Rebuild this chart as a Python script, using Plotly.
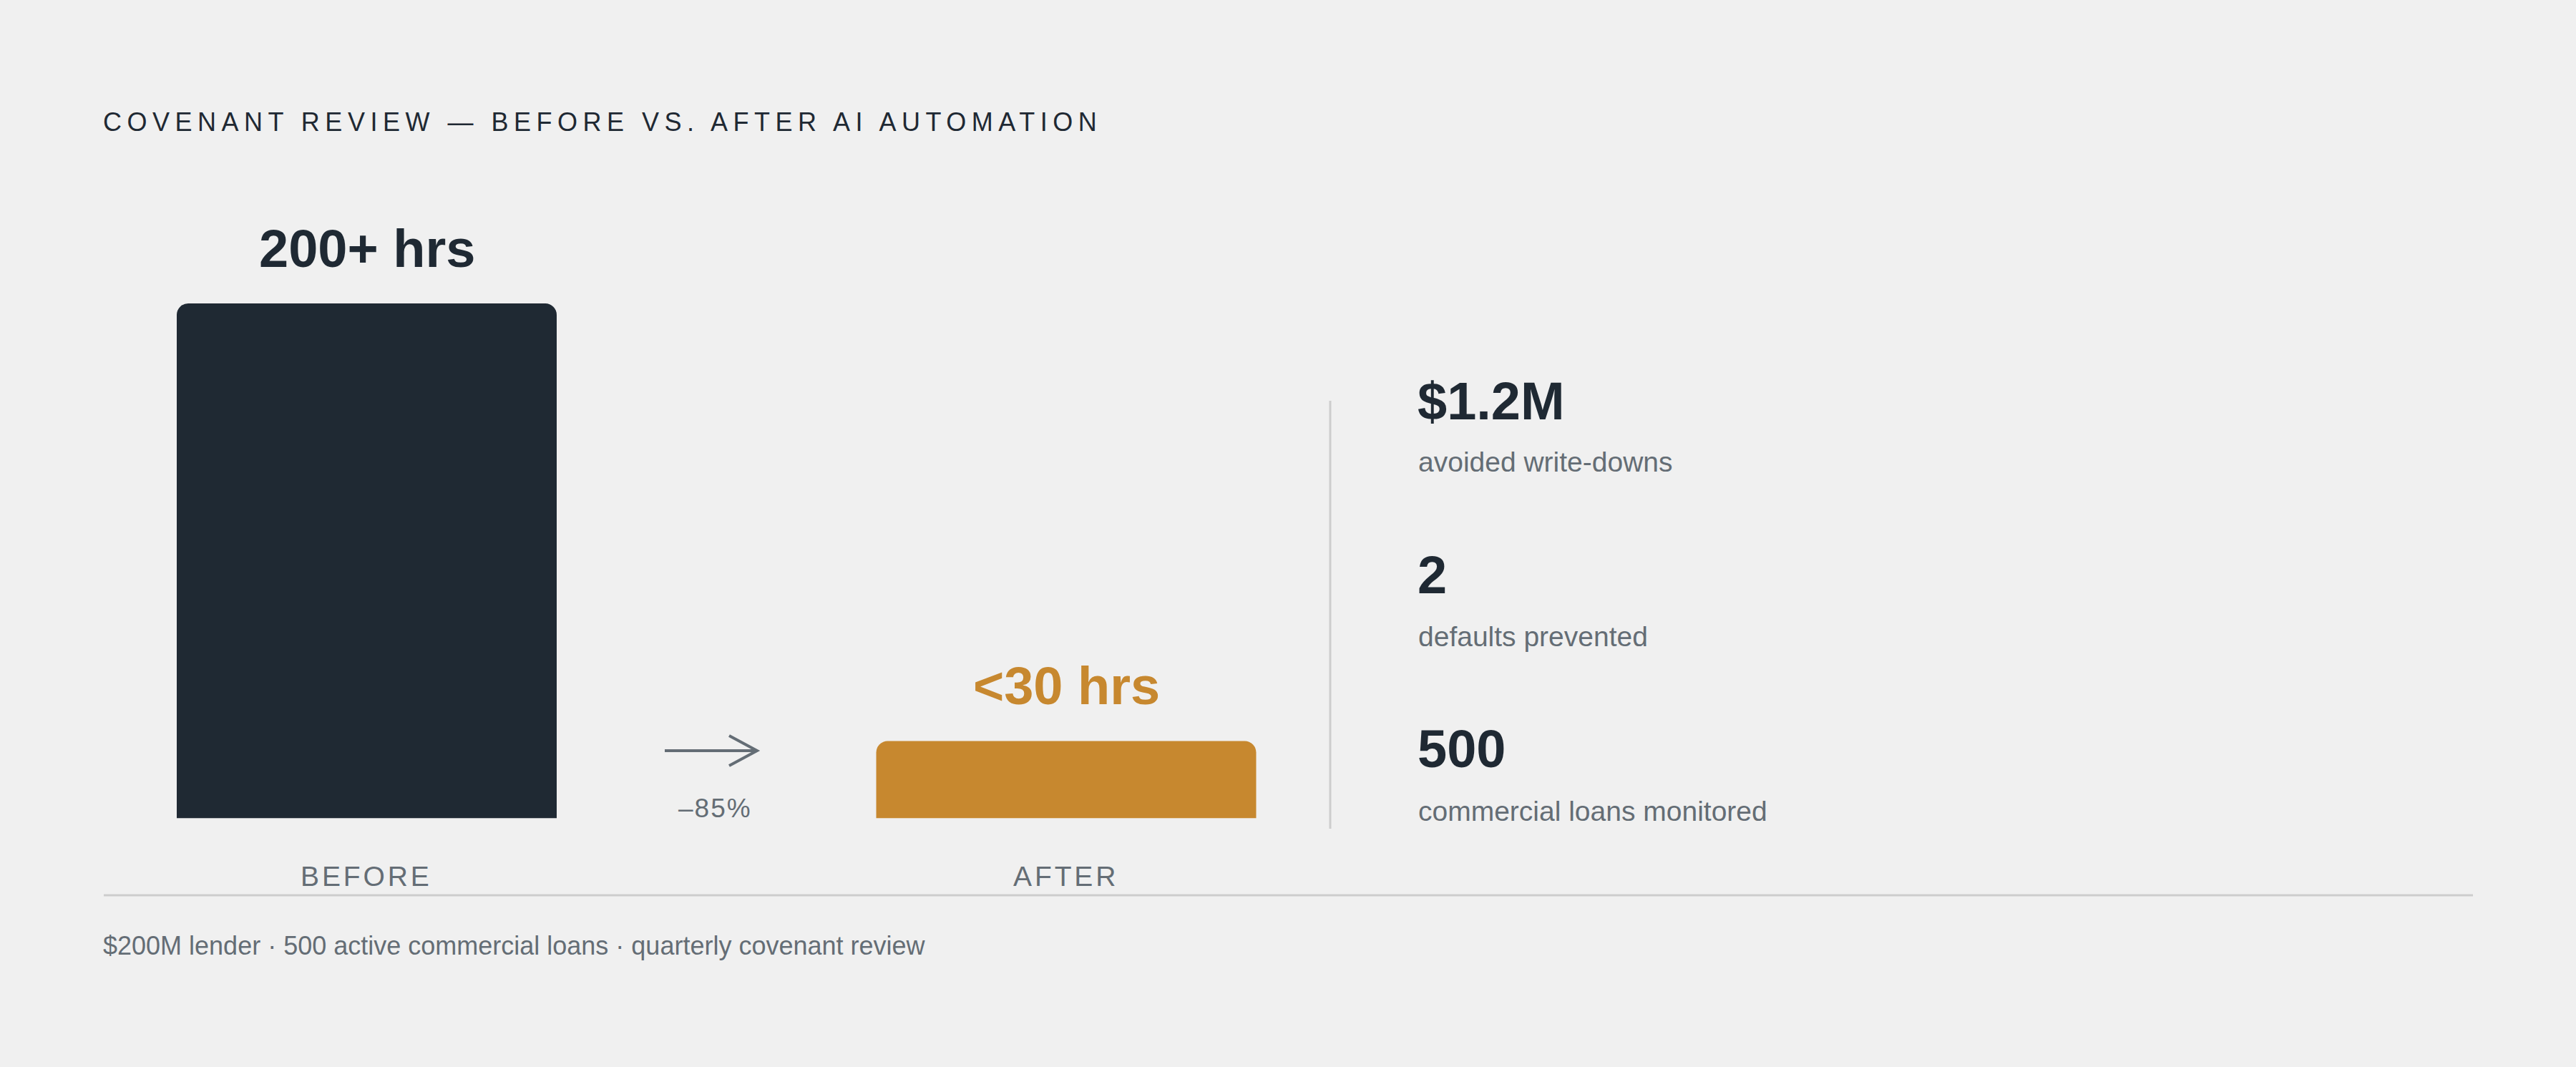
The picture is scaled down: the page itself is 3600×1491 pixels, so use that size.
import plotly.graph_objects as go

W, H = 3600, 1491

# ---- data ----
categories = ["BEFORE", "AFTER"]
hours = [200, 30]
bar_labels = ["200+ hrs", "<30 hrs"]
bar_colors = ["#1F2933", "#C7882F"]
stat_values = ["$1.2M", "2", "500"]
stat_labels = ["avoided write-downs", "defaults prevented", "commercial loans monitored"]
change_label = "–85%"
title_text = "COVENANT REVIEW — BEFORE VS. AFTER AI AUTOMATION"
footer_text = "$200M lender · 500 active commercial loans · quarterly covenant review"

DARK = "#1F2933"
GRAY = "#646D75"
RULE = "#CDCDCD"
BG = "#F0F0F0"
FONT = "Liberation Sans, Arial, sans-serif"
BIG = 74


def px_x(p):
    return p / W


def px_y(p):
    return 1 - p / H


def center_from_baseline(baseline, size):
    # Liberation Sans: ascent 0.905, descent 0.212
    return baseline - (0.905 - 0.212) / 2 * size


def spaced(txt, ls):
    return f'<span style="letter-spacing:{ls}px">{txt}</span>'


fig = go.Figure()
fig.add_trace(go.Bar(
    x=categories, y=hours,
    marker=dict(color=bar_colors, cornerradius=16, line=dict(width=0)),
    width=0.5432, hoverinfo="skip",
))

# axes: baseline at y=1143.5px, top of 200 at 424px
x_left = 512.5 - 0.5 * 977.5
x_right = 1490 + 0.5 * 977.5
fig.update_xaxes(domain=[px_x(x_left), px_x(x_right)], range=[-0.5, 1.5],
                 visible=False, fixedrange=True)
fig.update_yaxes(domain=[px_y(1143.5), px_y(424)], range=[0, 200],
                 visible=False, fixedrange=True)

ann = []
# title
ann.append(dict(text=spaced(title_text, 7.5), xref="paper", yref="paper",
                x=px_x(142), y=px_y(center_from_baseline(183, 36)),
                xanchor="left", yanchor="middle", showarrow=False,
                font=dict(family=FONT, size=36, color=DARK)))
# bar value labels
for c, v, lab, col in zip(categories, hours, bar_labels, bar_colors):
    ann.append(dict(text=f"<b>{lab}</b>", x=c, y=v, xref="x", yref="y",
                    xanchor="center", yanchor="bottom",
                    yshift=50 - 0.212 * BIG - 1, showarrow=False,
                    font=dict(family=FONT, size=BIG, color=col)))
    ann.append(dict(text=spaced(c, 3.9), x=c, y=px_y(center_from_baseline(1238, 39)),
                    xref="x", yref="paper", xanchor="center", yanchor="middle",
                    xshift=-1, showarrow=False,
                    font=dict(family=FONT, size=39, color=GRAY)))
# change label
ann.append(dict(text=spaced(change_label, 2), xref="paper", yref="paper",
                x=px_x(999), y=px_y(center_from_baseline(1142, 37)),
                xanchor="center", yanchor="middle", showarrow=False,
                font=dict(family=FONT, size=37, color=GRAY)))
# stats
num_base = [586, 829, 1072]
lab_base = [659, 903, 1147]
for v, l, nb, lb in zip(stat_values, stat_labels, num_base, lab_base):
    ann.append(dict(text=f"<b>{v}</b>", xref="paper", yref="paper",
                    x=px_x(1979), y=px_y(center_from_baseline(nb, BIG)),
                    xanchor="left", yanchor="middle", showarrow=False,
                    font=dict(family=FONT, size=BIG, color=DARK)))
    ann.append(dict(text=l, xref="paper", yref="paper",
                    x=px_x(1980), y=px_y(center_from_baseline(lb, 39)),
                    xanchor="left", yanchor="middle", showarrow=False,
                    font=dict(family=FONT, size=39, color=GRAY)))
# footer
ann.append(dict(text=footer_text, xref="paper", yref="paper",
                x=px_x(142), y=px_y(center_from_baseline(1334, 36)),
                xanchor="left", yanchor="middle", showarrow=False,
                font=dict(family=FONT, size=36, color=GRAY)))

shapes = [
    # arrow shaft
    dict(type="line", xref="paper", yref="paper",
         x0=px_x(929), x1=px_x(1057), y0=px_y(1049), y1=px_y(1049),
         line=dict(color=GRAY, width=4)),
    # arrow head
    dict(type="path", xref="paper", yref="paper",
         path=f"M{px_x(1019)},{px_y(1028)} L{px_x(1058)},{px_y(1049)} L{px_x(1019)},{px_y(1070)}",
         line=dict(color=GRAY, width=4)),
    # vertical divider
    dict(type="line", xref="paper", yref="paper",
         x0=px_x(1859), x1=px_x(1859), y0=px_y(560), y1=px_y(1158),
         line=dict(color=RULE, width=3)),
    # horizontal rule
    dict(type="line", xref="paper", yref="paper",
         x0=px_x(145), x1=px_x(3456), y0=px_y(1251), y1=px_y(1251),
         line=dict(color=RULE, width=3)),
]

fig.update_layout(
    width=W, height=H, margin=dict(l=0, r=0, t=0, b=0),
    paper_bgcolor=BG, plot_bgcolor=BG, showlegend=False,
    annotations=ann, shapes=shapes,
)

fig.write_html(
    "out.html",
    config={"displayModeBar": False},
    post_script="document.body.style.margin='0';document.body.style.overflow='hidden';document.body.style.background='#F0F0F0';",
)
